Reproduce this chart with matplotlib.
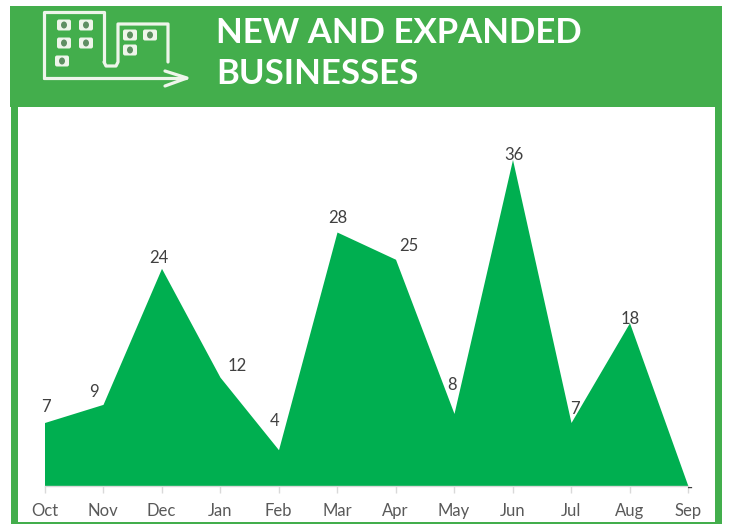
import matplotlib
matplotlib.use("Agg")
import matplotlib.pyplot as plt
from matplotlib.patches import Rectangle, FancyBboxPatch, Ellipse

months = ["Oct", "Nov", "Dec", "Jan", "Feb", "Mar", "Apr", "May", "Jun", "Jul", "Aug", "Sep"]
values = [7, 9, 24, 12, 4, 28, 25, 8, 36, 7, 18, 0]
value_labels = ["7", "9", "24", "12", "4", "28", "25", "8", "36", "7", "18", "-"]
label_offsets = [(1, 8), (-9, 4), (-3, 2), (17, 3), (-4, 21), (1, 6), (13, 5), (-2, 20), (1, -4), (4, 6), (1, -4), (2, -10)]
title_lines = ["NEW AND EXPANDED", "BUSINESSES"]

W, H = 733, 527
GREEN = "#43AE4C"
FILL = "#00AF50"
TEXT = "#404040"
TICK = "#595959"
ICON = "#EEF5EA"

plt.rcParams["font.family"] = ["Lato", "DejaVu Sans"]
fig = plt.figure(figsize=(W / 100, H / 100), dpi=100, facecolor="white")

# page layer in pixel coordinates
bg = fig.add_axes([0, 0, 1, 1])
bg.set_xlim(0, W)
bg.set_ylim(H, 0)
bg.axis("off")
bg.add_patch(Rectangle((10, 6), 712, 101, fc=GREEN, ec="none"))
bg.add_patch(Rectangle((11, 105), 7, 419, fc=GREEN, ec="none"))
bg.add_patch(Rectangle((715, 105), 7, 419, fc=GREEN, ec="none"))
bg.add_patch(Rectangle((11, 522), 711, 2.2, fc=GREEN, ec="none"))

# header icon
icon = dict(color=ICON, lw=2.3, solid_capstyle="round", solid_joinstyle="round")
bg.plot([44, 44, 104, 104], [78, 12, 12, 62], **icon)
bg.plot([104, 106, 116, 118, 118, 168, 168], [62, 66, 66, 62, 24, 24, 62], **icon)
bg.plot([44, 186], [78, 78], **icon)
bg.plot([165, 187, 165], [71, 78, 86], **icon)
for wx, wy in [(64, 25), (86, 25), (64, 43), (86, 43), (62, 61), (130, 35), (150, 35), (130, 50)]:
    bg.add_patch(FancyBboxPatch((wx - 7, wy - 5.5), 14, 11, boxstyle="round,pad=0,rounding_size=2",
                                fc=ICON, ec="none"))
    bg.add_patch(Ellipse((wx, wy), 6, 7, fc="#5E8F62", ec="none"))

bg.text(216, 33, title_lines[0], color="white", fontsize=25, fontweight="bold", va="center", ha="left")
bg.text(216, 74, title_lines[1], color="white", fontsize=25, fontweight="bold", va="center", ha="left")

# chart
x0, x1, ytop, ybase = 44.5, 688, 115, 486
ax = fig.add_axes([x0 / W, 1 - ybase / H, (x1 - x0) / W, (ybase - ytop) / H])
ax.patch.set_alpha(0)
xs = list(range(len(months)))
ax.fill_between(xs, values, 0, color=FILL, lw=0)
ax.set_xlim(0, len(months) - 1)
ax.set_ylim(0, (ybase - ytop) / 9.07)
ax.set_yticks([])
ax.set_xticks(xs)
ax.set_xticklabels(months, fontsize=12, color=TICK)
ax.tick_params(axis="x", length=5, width=1, color="#D9D9D9", pad=7)
for s in ["top", "left", "right"]:
    ax.spines[s].set_visible(False)
ax.spines["bottom"].set_color("#D9D9D9")
ax.spines["bottom"].set_linewidth(1)
for x, v, lab, (dx, dy) in zip(xs, values, value_labels, label_offsets):
    ax.annotate(lab, (x, v), xytext=(dx * 0.72, dy * 0.72), textcoords="offset points",
                ha="center", va="bottom", fontsize=12, color=TEXT, annotation_clip=False)

fig.savefig("out.png", dpi=100)
